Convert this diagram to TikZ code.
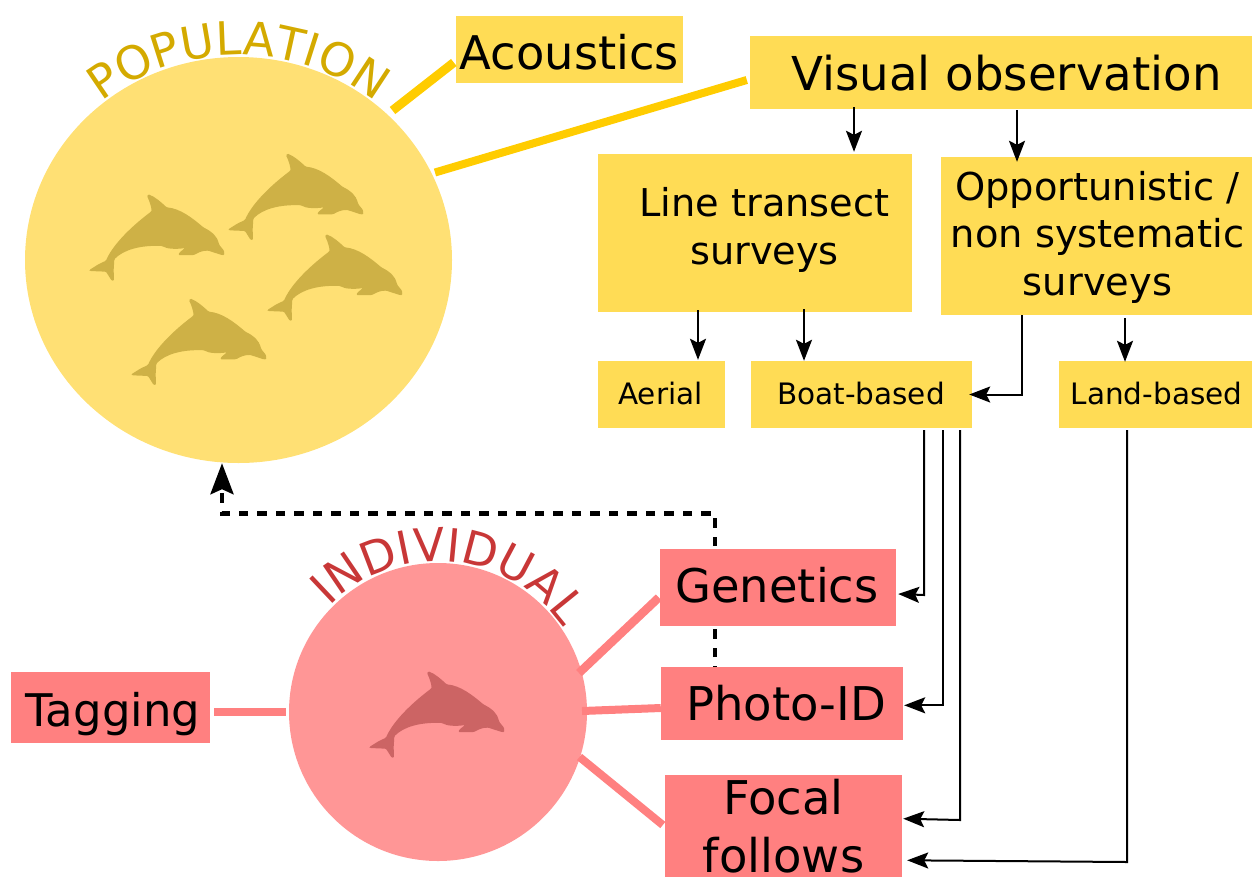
\documentclass[tikz,border=0pt]{standalone}
\usepackage{fontspec}
\setmainfont{DejaVu Sans}
\usetikzlibrary{arrows.meta,decorations.text,calc,shapes.geometric}
\definecolor{ycirc}{HTML}{FFE074}
\definecolor{ybox}{HTML}{FFDC55}
\definecolor{yline}{HTML}{FFCC00}
\definecolor{ytext}{HTML}{D4AA00}
\definecolor{ydol}{HTML}{CEB146}
\definecolor{pcirc}{HTML}{FF9696}
\definecolor{pbox}{HTML}{FF8080}
\definecolor{ptext}{HTML}{C83737}
\definecolor{pdol}{HTML}{CC6464}
\newcommand\FS[2]{\fontsize{#1}{#2}\selectfont}
% #1 horizontal tweak (twice the shift), #2 baseline below box centre, #3 text
\newcommand\TX[3]{\hspace*{#1pt}\raisebox{-#2pt}[0pt][0pt]{#3}}
\newcommand\Dolphin[3]{%
\fill[#3,shift={(#1,#2)},scale=0.33333,rounded corners=1pt]
 (58,420) -- (85,403) -- (108,392)
 .. controls (125,352) and (170,300) .. (243,245)
 .. controls (246,240) and (240,215) .. (231,198)
 -- (235,193) .. controls (255,200) and (275,218) .. (290,232)
 .. controls (330,236) and (365,262) .. (400,292)
 .. controls (425,305) and (440,315) .. (448,345)
 -- (462,362) -- (463,375) -- (455,375) -- (415,362)
 .. controls (395,362) and (385,368) .. (372,375)
 -- (325,375) -- (328,368) -- (345,354)
 .. controls (320,358) and (290,357) .. (277,348)
 .. controls (210,345) and (160,360) .. (133,388)
 -- (131,420) -- (132,452) -- (125,452) -- (108,425) -- (60,423) -- cycle;}
\tikzset{
 x=1pt,y=-1pt,
 ybx/.style={fill=ybox,inner sep=0pt,text=black},
 pbx/.style={fill=pbox,inner sep=0pt,text=black},
 thinarrow/.style={line width=2pt,-{Stealth[length=21pt,width=16pt,inset=4pt]},black},
 yl/.style={yline,line cap=butt},
 pl/.style={pbox,line cap=butt},
}
\begin{document}
\begin{tikzpicture}
\useasboundingbox (0,0) rectangle (1252,876);
\clip (0,0) rectangle (1252,876);
% circles
\node[ellipse,fill=ycirc,minimum width=427pt,minimum height=406pt,inner sep=0pt] (pop) at (238.5,260) {};
\node[circle,fill=pcirc,minimum size=298pt,inner sep=0pt] (ind) at (438,712) {};
% dashed feedback (under the boxes)
\coordinate (dstart) at (715,675.5);
\coordinate (dcorner1) at (715,513.5);
\coordinate (dcorner2) at (222,513.5);
\draw[line width=4.2pt,dash pattern=on 9.5pt off 9pt,-{Stealth[length=31pt,width=23pt,inset=5pt]}] (dstart) -- (dcorner1) -- (dcorner2) -- (pop.south -| dcorner2);
% dolphins
\Dolphin{70}{130}{ydol}
\Dolphin{209}{89.3}{ydol}
\Dolphin{248}{170}{ydol}
\Dolphin{112}{234.3}{ydol}
\Dolphin{350}{607}{pdol}
% boxes
\node[ybx,minimum width=227pt,minimum height=67pt] (ac) at (569.5,49.5) {\TX{0}{19.5}{\FS{46.4}{50}Acoustics}};
\node[ybx,minimum width=502pt,minimum height=73pt] (vis) at (1001,72.5) {\TX{11}{18.2}{\FS{46.7}{50}Visual observation}};
\node[ybx,minimum width=314pt,minimum height=158pt] (lts) at (755,233) {\TX{19}{-16.3}{\FS{38.3}{47.6}\begin{tabular}[t]{@{}c@{}}Line transect\\surveys\end{tabular}}};
\node[ybx,minimum width=311pt,minimum height=158pt] (opp) at (1096.5,236) {\TX{2}{-36}{\FS{38.4}{47.8}\begin{tabular}[t]{@{}c@{}}Opportunistic /\\non systematic\\surveys\end{tabular}}};
\node[ybx,minimum width=127pt,minimum height=67pt] (aer) at (661.5,394.5) {\TX{-2}{9.5}{\FS{29.5}{32}Aerial}};
\node[ybx,minimum width=221pt,minimum height=67pt] (boat) at (861.5,394.5) {\TX{-1}{9.5}{\FS{29.5}{32}Boat-based}};
\node[ybx,minimum width=193pt,minimum height=67pt] (land) at (1155.5,394.5) {\TX{2}{9.5}{\FS{29.5}{32}Land-based}};
\node[pbx,minimum width=236pt,minimum height=77pt] (gen) at (778,587.5) {\TX{-2}{14.5}{\FS{46.4}{50}Genetics}};
\node[pbx,minimum width=242pt,minimum height=73pt] (pho) at (782,703.5) {\TX{8}{16.5}{\FS{46.5}{50}Photo-ID}};
\node[pbx,minimum width=237pt,minimum height=104pt] (foc) at (783.5,827) {\TX{0}{-12.7}{\FS{46.5}{58.5}\begin{tabular}[t]{@{}c@{}}Focal\\follows\end{tabular}}};
\node[pbx,minimum width=199pt,minimum height=71pt] (tag) at (110.5,707.5) {\TX{5}{18.5}{\FS{45}{50}Tagging}};
% thick lines
\coordinate (popA) at (392.5,110.5);
\coordinate (popB) at (435,172.5);
\coordinate (indA) at (579,673);
\coordinate (indB) at (582,711);
\coordinate (indC) at (579.5,757);
\draw[yl,line width=9pt] (popA) -- ([xshift=-2pt,yshift=-13pt]ac.west);
\draw[yl,line width=8pt] (popB) -- ([xshift=-3pt,yshift=-7.5pt]vis.west);
\draw[pl,line width=8pt] ([xshift=4pt,yshift=-4.5pt]tag.east) -- ([xshift=-3pt,yshift=-4.5pt,]tag.east -| ind.west);
\draw[pl,line width=8.5pt] (indA) -- ([xshift=-1pt,yshift=-10pt]gen.west);
\draw[pl,line width=8pt] (indB) -- ([yshift=-4.5pt]pho.west);
\draw[pl,line width=8pt] (indC) -- ([xshift=-2pt,yshift=2pt]foc.west);
% thin arrows
\draw[thinarrow] ([yshift=2pt]vis.south -| 854,0) -- ([yshift=2pt]lts.north -| 854,0);
\draw[thinarrow] ([yshift=-1pt]vis.south -| 1017,0) -- ([yshift=-5pt]opp.north -| 1017,0);
\draw[thinarrow] ([yshift=2pt]lts.south -| 698,0) -- ([yshift=1pt]aer.north -| 698,0);
\draw[thinarrow] ([yshift=3pt]lts.south -| 804,0) -- (boat.north -| 804,0);
\draw[thinarrow] (opp.south -| 1022,0) |- ([xshift=-3pt]boat.east);
\draw[thinarrow] ([yshift=-3pt]opp.south -| 1125,0) -- ([yshift=-1pt]land.north -| 1125,0);
\draw[thinarrow] ([yshift=-2pt]boat.south -| 924,0) -- (924,595) -- ([xshift=2pt,yshift=-6.5pt]gen.east);
\draw[thinarrow] ([yshift=-2pt]boat.south -| 943,0) |- ([xshift=1pt,yshift=-1.8pt]pho.east);
\draw[thinarrow] ([yshift=-2pt]boat.south -| 960,0) -- (960,820) -- ([xshift=1pt,yshift=8.3pt]foc.east);
\draw[thinarrow] ([yshift=-2pt]land.south -| 1127,0) -- (1127,862) -- ([xshift=5pt,yshift=-33.3pt]foc.east);
% arc labels
\path[decorate,decoration={text along path,text align=center,
  text={|\FS{46}{46}\color{ytext}|POPULATION}}]
  (pop.center) ++(-165.5,-131.8) arc[start angle=140,end angle=40,x radius=216pt,y radius=205pt];
\path[decorate,decoration={text along path,text align=center,
  text={|\FS{46}{46}\color{ptext}|INDIVIDUAL}}]
  ([shift={(145:151pt)}]ind.center) arc[start angle=145,end angle=25,radius=151pt];
\end{tikzpicture}
\end{document}
